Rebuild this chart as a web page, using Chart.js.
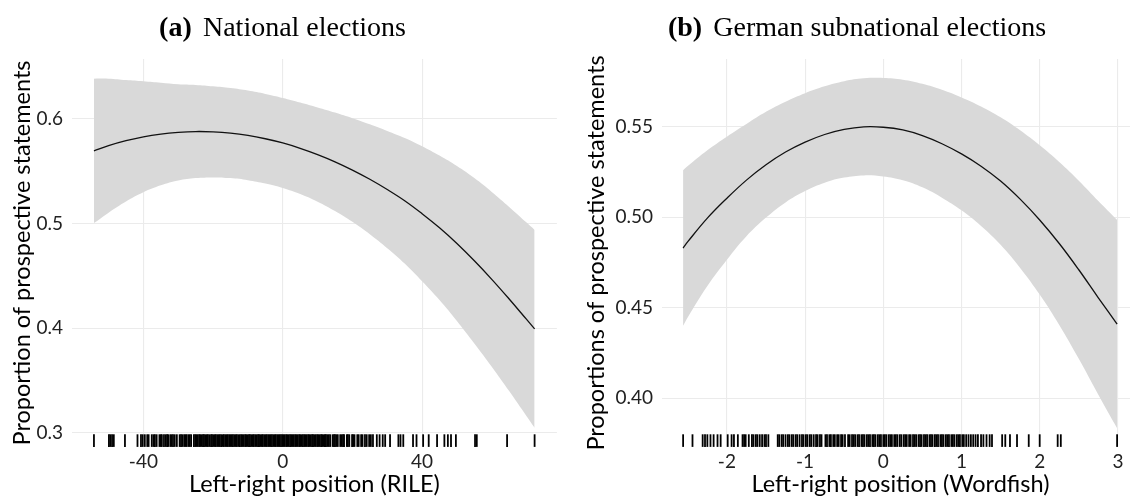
<!DOCTYPE html>
<html>
<head>
<meta charset="utf-8">
<script src="https://cdn.jsdelivr.net/npm/chart.js"></script>
<style>
  html, body { margin: 0; padding: 0; background: #ffffff; overflow: hidden; width: 1130px; height: 499px; }
  canvas { position: absolute; top: 0; }
  #panelA { left: 0; }
  #panelB { left: 565px; }
</style>
</head>
<body>
<canvas id="panelA" width="565" height="499"></canvas>
<canvas id="panelB" width="584" height="499"></canvas>
<script>
// ---- Panel (a): national elections, RILE scale ----
const xA      = [-54.2, -50, -45, -40, -35, -30, -25, -20, -15, -10, -5, 0, 5, 10, 15, 20, 25, 30, 35, 40, 45, 50, 55, 60, 65, 70, 72.3];
const fitA    = [0.5695, 0.5745, 0.5792, 0.5830, 0.5856, 0.5872, 0.5880, 0.5877, 0.5865, 0.5843, 0.5811, 0.5771, 0.5720, 0.5660, 0.5591, 0.5512, 0.5424, 0.5326, 0.5219, 0.5095, 0.4960, 0.4810, 0.4645, 0.4468, 0.4280, 0.4085, 0.3995];
const upperA  = [0.6385, 0.6385, 0.6372, 0.6360, 0.6346, 0.6332, 0.6325, 0.6312, 0.6295, 0.6271, 0.6239, 0.6201, 0.6157, 0.6110, 0.6061, 0.6007, 0.5949, 0.5886, 0.5819, 0.5740, 0.5650, 0.5550, 0.5435, 0.5303, 0.5160, 0.5010, 0.4940];
const lowerA  = [0.5005, 0.5105, 0.5212, 0.5300, 0.5366, 0.5412, 0.5435, 0.5442, 0.5435, 0.5415, 0.5383, 0.5341, 0.5283, 0.5210, 0.5121, 0.5017, 0.4899, 0.4766, 0.4619, 0.4450, 0.4270, 0.4070, 0.3855, 0.3633, 0.3400, 0.3160, 0.3050];
const rugA = [
  -54.2, -49.9, -49.5, -49.0, -48.5, -45.3, -41.7, -40.7, -40.2, -39.6,
  -38.9, -38.5, -37.6, -37.1, -36.7, -36.2, -35.4, -35.0, -34.7, -34.1, -33.6, -33.2, -32.9, -32.3, -31.9, -31.5, -31.0, -30.4,
  -29.6, -29.2, -28.8, -28.3, -27.9, -27.6, -27.1, -26.7, -26.3, -25.5, -25.1, -24.8, -24.4, -24.0, -23.7, -23.3, -22.9, -22.6,
  -22.2, -21.8, -21.5, -21.1, -20.6, -20.3, -19.9, -19.5, -19.2, -18.8, -18.4, -18.1, -17.7, -17.2, -16.9, -16.5, -16.1, -15.8,
  -15.4, -15.0, -14.7, -14.3, -13.9, -13.5, -13.2, -12.8, -12.3, -11.9, -11.6, -11.2, -10.8, -10.5, -10.1, -9.7, -9.4, -9.0,
  -8.6, -8.3, -7.9, -7.5, -7.1, -6.8, -6.4, -6.0, -5.7, -5.3, -4.9, -4.6, -4.2, -3.8, -3.5, -3.1, -2.7, -2.3, -2.0, -1.6, -1.2,
  -0.9, -0.5, -0.1, 0.2, 0.6, 1.0, 1.3, 1.7, 2.1, 2.5, 2.8, 3.2, 3.6, 3.9, 4.3, 4.7, 5.0, 5.4, 5.8, 6.2, 6.5, 6.9, 7.3, 7.6,
  8.0, 8.4, 8.7, 9.1, 9.5, 9.9, 10.2, 10.6, 11.0, 11.3, 11.7, 12.1, 12.4, 12.8, 13.2, 13.6, 14.3, 14.7, 15.0, 15.4, 15.8, 16.5,
  16.9, 17.3, 17.6, 18.4, 18.7, 19.1, 19.9, 20.2, 20.6, 21.4, 21.8, 22.5, 22.9, 23.6, 24.1, 24.8, 25.3, 25.9,
  27.0, 27.8, 28.7, 29.4, 30.8, 33.2, 33.8, 34.6, 37.4, 38.4, 40.3, 41.9, 44.3, 46.4, 47.4, 48.3, 49.7, 55.2, 55.7, 64.4, 72.3
];
const xTicksA = [-40, 0, 40];
const xTickLabelsA = ['-40', '0', '40'];
const yTicksA = [0.3, 0.4, 0.5, 0.6];
const yTickLabelsA = ['0.3', '0.4', '0.5', '0.6'];

// ---- Panel (b): German subnational elections, Wordfish scale ----
const xB      = [-2.56, -2.5, -2.25, -2, -1.75, -1.5, -1.25, -1, -0.75, -0.5, -0.25, 0, 0.25, 0.5, 0.75, 1, 1.25, 1.5, 1.75, 2, 2.25, 2.5, 2.75, 2.99];
const fitB    = [0.4830, 0.4865, 0.4995, 0.5105, 0.5205, 0.5290, 0.5360, 0.5415, 0.5457, 0.5485, 0.5499, 0.5497, 0.5482, 0.5451, 0.5406, 0.5350, 0.5282, 0.5200, 0.5100, 0.4985, 0.4855, 0.4710, 0.4555, 0.4410];
const upperB  = [0.5260, 0.5283, 0.5370, 0.5445, 0.5515, 0.5582, 0.5638, 0.5685, 0.5723, 0.5751, 0.5767, 0.5769, 0.5760, 0.5737, 0.5704, 0.5662, 0.5612, 0.5552, 0.5480, 0.5397, 0.5305, 0.5202, 0.5090, 0.4985];
const lowerB  = [0.4400, 0.4447, 0.4620, 0.4765, 0.4895, 0.4998, 0.5082, 0.5145, 0.5191, 0.5219, 0.5231, 0.5225, 0.5204, 0.5165, 0.5108, 0.5038, 0.4952, 0.4848, 0.4720, 0.4573, 0.4405, 0.4218, 0.4020, 0.3835];
const rugB = [
  -2.56, -2.44, -2.31, -2.28, -2.25, -2.21, -2.17, -2.12, -2.08, -1.99, -1.94, -1.91, -1.86, -1.80, -1.78, -1.76, -1.72,
  -1.68, -1.66, -1.63, -1.61, -1.58, -1.55, -1.52, -1.50, -1.47, -1.35, -1.33, -1.30, -1.28, -1.25, -1.22, -1.20, -1.17,
  -1.15, -1.12, -1.10, -1.07, -1.04, -1.02, -0.99, -0.97, -0.94, -0.92, -0.89, -0.86, -0.84, -0.81, -0.79, -0.74, -0.72,
  -0.69, -0.67, -0.64, -0.62, -0.59, -0.57, -0.54, -0.52, -0.49, -0.45, -0.43, -0.40, -0.38, -0.36, -0.33, -0.31, -0.28,
  -0.26, -0.24, -0.21, -0.19, -0.17, -0.14, -0.12, -0.10, -0.07, -0.05, -0.03, 0.00, 0.02, 0.04, 0.07, 0.09, 0.11, 0.14,
  0.16, 0.18, 0.21, 0.23, 0.26, 0.28, 0.30, 0.33, 0.35, 0.38, 0.40, 0.42, 0.45, 0.47, 0.49, 0.52, 0.54, 0.56, 0.59, 0.61,
  0.63, 0.66, 0.68, 0.70, 0.73, 0.75, 0.77, 0.80, 0.82, 0.84, 0.87, 0.89, 0.91, 0.94, 0.96, 0.98, 1.01, 1.03, 1.06, 1.09,
  1.12, 1.15, 1.18, 1.21, 1.25, 1.28, 1.32, 1.36, 1.39,
  1.52, 1.56, 1.62, 1.71, 1.86, 2.00, 2.23, 2.27, 2.99
];
const xTicksB = [-2, -1, 0, 1, 2, 3];
const xTickLabelsB = ['-2', '-1', '0', '1', '2', '3'];
const yTicksB = [0.40, 0.45, 0.50, 0.55];
const yTickLabelsB = ['0.40', '0.45', '0.50', '0.55'];

// ---- shared styling ----
const SANS = 'Lato, "Open Sans", sans-serif';
const SERIF = '"Liberation Serif", "DejaVu Serif", serif';
const GRID = '#ebebeb';
const BAND = '#d9d9d9';

Chart.defaults.font.family = SANS;
Chart.defaults.color = '#222';

// Sub-figure caption: bold tag followed by regular text, centred on the canvas.
const captionPlugin = {
  id: 'caption',
  afterDraw(chart, args, opts) {
    const ctx = chart.ctx;
    ctx.save();
    ctx.fillStyle = '#000';
    ctx.textBaseline = 'alphabetic';
    const bold = `bold ${opts.size}px ${SERIF}`;
    const normal = `${opts.size}px ${SERIF}`;
    ctx.font = bold;
    const w1 = ctx.measureText(opts.tag).width;
    ctx.font = normal;
    const w2 = ctx.measureText(opts.text).width;
    const gap = opts.size * 0.4;
    const x0 = chart.width / 2 - (w1 + gap + w2) / 2;
    ctx.font = bold;
    ctx.fillText(opts.tag, x0, opts.baseline);
    ctx.font = normal;
    ctx.fillText(opts.text, x0 + w1 + gap, opts.baseline);
    ctx.restore();
  }
};

function pts(xs, ys) { return xs.map((x, i) => ({ x: x, y: ys[i] })); }

function makePanel(id, cfg) {
  const rugY = cfg.yMin + (cfg.yMax - cfg.yMin) * 0.0165;
  return new Chart(document.getElementById(id), {
    type: 'line',
    data: {
      datasets: [
        { // fitted curve
          data: pts(cfg.x, cfg.fit),
          borderColor: '#111',
          borderWidth: 1.3,
          pointRadius: 0,
          tension: 0.4,
          fill: false
        },
        { // rug of observed positions
          data: cfg.rug.map(v => ({ x: v, y: rugY })),
          showLine: false,
          pointStyle: 'line',
          pointRotation: 90,
          pointRadius: 6.3,
          pointBorderWidth: 1.8,
          pointBorderColor: '#000',
          pointBackgroundColor: 'rgba(0,0,0,0)'
        },
        { // confidence band, upper edge
          data: pts(cfg.x, cfg.upper),
          borderWidth: 0,
          borderColor: 'rgba(0,0,0,0)',
          backgroundColor: BAND,
          pointRadius: 0,
          tension: 0.4,
          fill: '+1'
        },
        { // confidence band, lower edge
          data: pts(cfg.x, cfg.lower),
          borderWidth: 0,
          borderColor: 'rgba(0,0,0,0)',
          pointRadius: 0,
          tension: 0.4,
          fill: false
        }
      ]
    },
    options: {
      responsive: false,
      devicePixelRatio: 1,
      animation: false,
      events: [],
      layout: { padding: { top: 59, right: cfg.padRight, bottom: 0, left: 0 } },
      plugins: {
        legend: { display: false },
        tooltip: { enabled: false },
        caption: { tag: cfg.tag, text: cfg.caption, size: 28, baseline: 36 }
      },
      scales: {
        x: {
          type: 'linear',
          min: cfg.xMin,
          max: cfg.xMax,
          afterFit(s) { s.height = 52; },
          afterBuildTicks(s) { s.ticks = cfg.xTicks.map(v => ({ value: v })); },
          ticks: {
            autoSkip: false,
            maxRotation: 0,
            padding: 3,
            color: '#222',
            font: { size: 19 },
            callback: (v, i) => cfg.xTickLabels[i]
          },
          grid: { color: GRID, lineWidth: 1.1, drawTicks: false },
          border: { display: false },
          title: {
            display: true,
            text: cfg.xTitle,
            color: '#000',
            font: { size: 23.5 },
            padding: { top: 0, bottom: 0 }
          }
        },
        y: {
          type: 'linear',
          min: cfg.yMin,
          max: cfg.yMax,
          afterFit(s) { s.width = cfg.yAxisWidth; },
          afterBuildTicks(s) { s.ticks = cfg.yTicks.map(v => ({ value: v })); },
          ticks: {
            padding: 9,
            color: '#222',
            font: { size: 19 },
            callback: (v, i) => cfg.yTickLabels[i]
          },
          grid: { color: GRID, lineWidth: 1.1, drawTicks: false },
          border: { display: false },
          title: {
            display: true,
            text: cfg.yTitle,
            color: '#000',
            font: { size: 23.5 },
            padding: { top: cfg.yTitlePad, bottom: 0 }
          }
        }
      }
    },
    plugins: [captionPlugin]
  });
}

makePanel('panelA', {
  tag: '(a)', caption: 'National elections',
  x: xA, fit: fitA, upper: upperA, lower: lowerA, rug: rugA,
  xTicks: xTicksA, xTickLabels: xTickLabelsA, yTicks: yTicksA, yTickLabels: yTickLabelsA,
  xMin: -60.5, xMax: 78.7, yMin: 0.2866, yMax: 0.6573,
  xTitle: 'Left-right position (RILE)',
  yTitle: 'Proportion of prospective statements',
  yAxisWidth: 72, yTitlePad: 8, padRight: 3
});

makePanel('panelB', {
  tag: '(b)', caption: 'German subnational elections',
  x: xB, fit: fitB, upper: upperB, lower: lowerB, rug: rugB,
  xTicks: xTicksB, xTickLabels: xTickLabelsB, yTicks: yTicksB, yTickLabels: yTickLabelsB,
  xMin: -2.83, xMax: 3.27, yMin: 0.3731, yMax: 0.5874,
  xTitle: 'Left-right position (Wordfish)',
  yTitle: 'Proportions of prospective statements',
  yAxisWidth: 97, yTitlePad: 17, padRight: 10
});
</script>
</body>
</html>
